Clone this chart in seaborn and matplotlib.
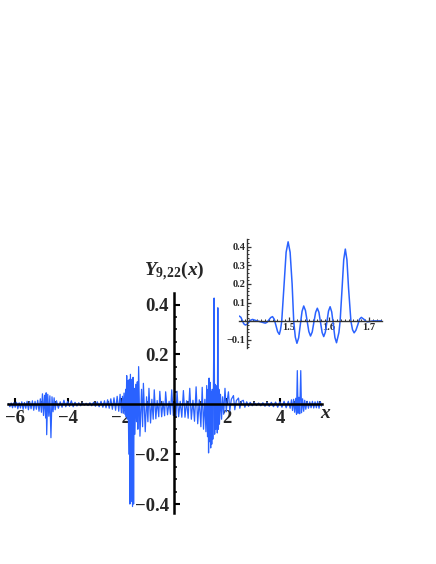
import pandas as pd
import seaborn as sns
import matplotlib.pyplot as plt
from matplotlib.ticker import MultipleLocator

# main curve (x, y)
noise_left = [(-6.26, 0.003), (-6.21, -0.010), (-6.16, 0.005), (-6.11, -0.014), (-6.06, 0.006),
              (-6.01, -0.012), (-5.96, 0.008), (-5.91, -0.018), (-5.86, 0.006), (-5.81, -0.015),
              (-5.76, 0.010), (-5.71, -0.020), (-5.66, 0.007), (-5.61, -0.016), (-5.56, 0.012),
              (-5.51, -0.022), (-5.46, 0.010), (-5.41, -0.018), (-5.36, 0.014), (-5.31, -0.024),
              (-5.26, 0.012), (-5.21, -0.020), (-5.16, 0.016), (-5.11, -0.028), (-5.06, 0.022)]
cluster_m5 = [(-5.02, -0.032), (-4.98, 0.042), (-4.94, -0.045), (-4.90, 0.036), (-4.86, -0.055),
              (-4.84, 0.046), (-4.82, -0.122), (-4.78, 0.040), (-4.74, -0.048), (-4.70, 0.034),
              (-4.66, -0.134), (-4.62, 0.030), (-4.58, -0.030), (-4.54, 0.026), (-4.50, -0.022)]
noise_mid = [(-4.45, 0.014), (-4.38, -0.016), (-4.31, 0.010), (-4.24, -0.012), (-4.17, 0.016),
             (-4.10, -0.010), (-4.03, 0.012), (-3.96, -0.008), (-3.89, 0.014), (-3.82, -0.010),
             (-3.75, 0.008), (-3.68, -0.007), (-3.61, 0.006), (-3.54, -0.006), (-3.47, 0.005),
             (-3.40, -0.004), (-3.33, 0.004), (-3.26, -0.005), (-3.19, 0.006), (-3.12, -0.006),
             (-3.05, 0.008), (-2.98, -0.008), (-2.91, 0.010), (-2.84, -0.010), (-2.77, 0.012),
             (-2.70, -0.012), (-2.64, 0.014), (-2.58, -0.014), (-2.52, 0.018), (-2.46, -0.016),
             (-2.40, 0.022), (-2.34, -0.020), (-2.28, 0.026), (-2.22, -0.024), (-2.16, 0.032),
             (-2.10, -0.028), (-2.05, 0.040), (-2.00, -0.034)]
cluster_m2 = [(-1.96, 0.032), (-1.93, -0.036), (-1.90, 0.045), (-1.87, -0.040), (-1.84, 0.060),
              (-1.82, -0.050), (-1.80, 0.115), (-1.78, -0.060), (-1.75, 0.095), (-1.72, -0.200),
              (-1.70, 0.100), (-1.68, -0.400), (-1.66, 0.120), (-1.63, -0.390), (-1.61, 0.100),
              (-1.58, -0.410), (-1.56, 0.108), (-1.54, -0.400), (-1.52, 0.064), (-1.49, -0.120),
              (-1.46, 0.080), (-1.43, -0.070), (-1.40, 0.090), (-1.38, -0.100), (-1.35, 0.151)]
comb = [(-1.30, -0.128), (-1.24, 0.060), (-1.20, -0.090), (-1.17, 0.084), (-1.10, -0.110),
        (-1.05, 0.030), (-1.00, -0.070), (-0.96, 0.064), (-0.90, -0.075), (-0.85, 0.020),
        (-0.80, -0.060), (-0.76, 0.058), (-0.70, -0.058), (-0.65, 0.015), (-0.59, -0.050),
        (-0.55, 0.052), (-0.48, -0.050), (-0.43, 0.012), (-0.37, -0.046), (-0.33, 0.050),
        (-0.26, -0.042), (-0.20, 0.012), (-0.15, -0.040), (-0.10, 0.058), (-0.04, -0.045),
        (0.02, 0.010), (0.06, -0.048), (0.10, 0.052), (0.16, -0.050), (0.22, 0.012),
        (0.28, -0.052), (0.34, 0.055), (0.40, -0.052), (0.46, 0.014), (0.52, -0.056),
        (0.58, 0.064), (0.64, -0.060), (0.70, 0.016), (0.76, -0.068), (0.82, 0.070),
        (0.88, -0.078), (0.94, 0.018), (1.00, -0.090), (1.05, 0.068), (1.10, -0.100),
        (1.15, 0.020), (1.19, -0.110), (1.22, 0.075), (1.25, -0.130)]
cluster_p15 = [(1.27, 0.060), (1.29, -0.195), (1.31, 0.105), (1.33, -0.150), (1.35, 0.088),
               (1.37, -0.175), (1.39, 0.050), (1.41, -0.160), (1.43, 0.060), (1.45, -0.140),
               (1.47, 0.030), (1.50, 0.426), (1.52, -0.120), (1.54, 0.080), (1.56, -0.100),
               (1.58, 0.070), (1.60, -0.090), (1.61, 0.075), (1.62, -0.115), (1.64, 0.387),
               (1.66, -0.100), (1.68, 0.060), (1.70, -0.080)]
decay = [(1.74, 0.040), (1.78, -0.060), (1.82, 0.030), (1.86, -0.040), (1.91, 0.064),
         (1.96, -0.030), (2.00, 0.020), (2.04, 0.050), (2.09, -0.027), (2.15, 0.020),
         (2.23, 0.035), (2.28, -0.022), (2.34, 0.015), (2.42, 0.025), (2.47, -0.016),
         (2.53, 0.012), (2.60, 0.016), (2.66, -0.012), (2.73, 0.010), (2.80, -0.008)]
noise_right = [(2.86, 0.008), (2.94, -0.006), (3.02, 0.006), (3.10, -0.005), (3.18, 0.005),
               (3.26, -0.006), (3.34, 0.006), (3.42, -0.008), (3.50, 0.007), (3.58, -0.008),
               (3.66, 0.008), (3.74, -0.010), (3.82, 0.009), (3.90, -0.012), (3.98, 0.010),
               (4.06, -0.012), (4.14, 0.012), (4.22, -0.014), (4.30, 0.012), (4.37, -0.016)]
cluster_p46 = [(4.42, 0.018), (4.46, -0.025), (4.50, 0.020), (4.54, -0.032), (4.58, 0.024),
               (4.61, -0.040), (4.64, 0.135), (4.67, -0.036), (4.70, 0.028), (4.73, -0.038),
               (4.77, 0.135), (4.80, -0.034), (4.84, 0.022), (4.88, -0.028), (4.92, 0.016)]
noise_end = [(4.96, -0.020), (5.01, 0.012), (5.06, -0.016), (5.11, 0.010), (5.16, -0.014),
             (5.21, 0.012), (5.26, -0.015), (5.31, 0.010), (5.36, -0.014), (5.41, 0.012),
             (5.46, -0.016), (5.51, 0.010), (5.56, -0.008)]

# zoomed curve in the inset
inset_x = [1.377, 1.381, 1.3845, 1.388, 1.392, 1.3965, 1.401, 1.4055, 1.410, 1.4175,
           1.425, 1.4335, 1.442, 1.4465, 1.451, 1.4555, 1.460, 1.4643, 1.4685, 1.4728,
           1.477, 1.480, 1.483, 1.489, 1.494, 1.499, 1.504, 1.509, 1.513, 1.517,
           1.521, 1.5253, 1.5295, 1.5338, 1.538, 1.5423, 1.5465, 1.5508, 1.555, 1.5593,
           1.5635, 1.5678, 1.572, 1.576, 1.580, 1.584, 1.588, 1.592, 1.596, 1.600,
           1.604, 1.608, 1.612, 1.616, 1.620, 1.626, 1.629, 1.634, 1.638, 1.642,
           1.646, 1.650, 1.656, 1.660, 1.664, 1.6685, 1.673, 1.6775, 1.682, 1.6858,
           1.6895, 1.693, 1.697, 1.704, 1.712, 1.722, 1.733]
inset_y = [0.028, 0.021, 0.004, -0.013, -0.020, -0.016, -0.005, 0.006, 0.010, 0.005,
           0.000, -0.005, -0.010, -0.005, 0.0075, 0.020, 0.025, 0.011, -0.022, -0.056,
           -0.070, -0.045, 0.000, 0.200, 0.370, 0.426, 0.370, 0.200, 0.000, -0.085,
           -0.118, -0.089, -0.018, 0.053, 0.082, 0.058, 0.002, -0.055, -0.079, -0.057,
           -0.004, 0.048, 0.070, 0.048, -0.006, -0.060, -0.082, -0.059, -0.002, 0.055,
           0.078, 0.050, -0.018, -0.087, -0.115, -0.060, 0.000, 0.180, 0.330, 0.387,
           0.330, 0.180, 0.000, -0.045, -0.062, -0.048, -0.020, 0.011, 0.021, 0.015,
           0.009, 0.000, -0.003, -0.001, 0.002, 0.002, 0.002]

main_xticks = [-6, -4, -2, 2, 4]
main_yticks = [-0.4, -0.2, 0.2, 0.4]
inset_xticks = [1.5, 1.6, 1.7]
inset_yticks = [-0.1, 0.1, 0.2, 0.3, 0.4]


def fmt(v, nd):
    return f"{v:.{nd}f}".replace("-", "\u2212")


sns.set_style("white")
plt.rcParams["font.family"] = ["Liberation Serif", "DejaVu Serif"]
plt.rcParams["font.weight"] = "bold"
plt.rcParams["mathtext.fontset"] = "custom"
plt.rcParams["mathtext.rm"] = "Liberation Serif:bold"
plt.rcParams["mathtext.it"] = "Liberation Serif:italic:bold"
plt.rcParams["mathtext.bf"] = "Liberation Serif:bold"

blue = "#2a62ff"

main = pd.DataFrame(noise_left + cluster_m5 + noise_mid + cluster_m2 + comb + cluster_p15
                    + decay + noise_right + cluster_p46 + noise_end, columns=["x", "y"])
zoom = pd.DataFrame({"x": inset_x, "y": inset_y})

fig = plt.figure(figsize=(4.36, 5.64), dpi=100)

# main plot, axes crossing at the origin
ax = fig.add_axes([0.019, 0.0904, 0.7188, 0.390])
ax.set_facecolor("none")
sns.lineplot(data=main, x="x", y="y", ax=ax, color=blue, lw=0.9,
             estimator=None, sort=False)
ax.set_xlim(-6.27, 5.56)
ax.set_ylim(-0.436, 0.446)
for side in ["top", "right"]:
    ax.spines[side].set_visible(False)
for side in ["left", "bottom"]:
    ax.spines[side].set_position(("data", 0))
    ax.spines[side].set_linewidth(1.8)
    ax.spines[side].set_color("black")
    ax.spines[side].set_zorder(3)
ax.set_xticks(main_xticks, [fmt(v, 0) for v in main_xticks])
ax.set_yticks(main_yticks, [fmt(v, 1) for v in main_yticks])
ax.xaxis.set_minor_locator(MultipleLocator(0.5))
ax.yaxis.set_minor_locator(MultipleLocator(0.05))
ax.tick_params(which="both", direction="in", labelsize=13.5, color="black",
               left=True, bottom=True)
ax.tick_params(which="major", length=4.5, width=1.5, pad=4)
ax.tick_params(which="minor", length=2.5, width=1.1)
ax.set_xlabel("")
ax.set_ylabel("")

fig.text(174 / 436, 1 - 271 / 564, r"$Y_{9,\!22}(x)$", ha="center", va="center", fontsize=14)
fig.text(326 / 436, 1 - 413 / 564, r"$x$", ha="center", va="center", fontsize=14)

# inset
axin = fig.add_axes([0.5489, 0.3824, 0.3266, 0.1938])
axin.set_facecolor("none")
sns.lineplot(data=zoom, x="x", y="y", ax=axin, color=blue, lw=1.1,
             estimator=None, sort=False)
axin.set_xlim(1.377, 1.733)
axin.set_ylim(-0.145, 0.441)
for side in ["top", "right"]:
    axin.spines[side].set_visible(False)
axin.spines["left"].set_position(("data", 1.397))
axin.spines["bottom"].set_position(("data", 0))
for side in ["left", "bottom"]:
    axin.spines[side].set_linewidth(1.0)
    axin.spines[side].set_color("#333333")
    axin.spines[side].set_zorder(3)
axin.set_xticks(inset_xticks, [fmt(v, 1) for v in inset_xticks])
axin.set_yticks(inset_yticks, [fmt(v, 1) for v in inset_yticks])
axin.xaxis.set_minor_locator(MultipleLocator(0.01))
axin.yaxis.set_minor_locator(MultipleLocator(0.02))
axin.tick_params(which="both", direction="in", labelsize=7.5, color="#333333",
                 left=True, bottom=True)
axin.tick_params(which="major", length=3, width=0.9, pad=1.5)
axin.tick_params(which="minor", length=1.5, width=0.7)
axin.set_xlabel("")
axin.set_ylabel("")

fig.savefig("out.png", dpi=100)
plt.close(fig)
